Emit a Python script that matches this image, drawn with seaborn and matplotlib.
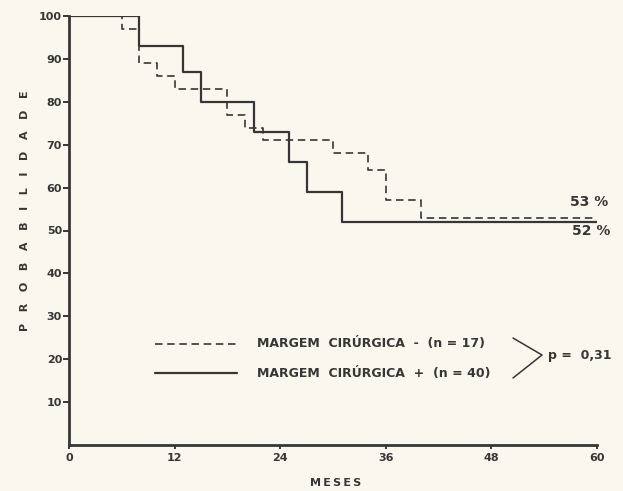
import matplotlib
matplotlib.use("Agg")
import matplotlib.pyplot as plt
from matplotlib.lines import Line2D
import numpy as np
import pandas as pd
import seaborn as sns

# Kaplan-Meier steps (months, % surviving)
meses_neg = [0, 6, 8, 10, 12, 18, 20, 22, 30, 34, 36, 40, 60]
prob_neg = [100, 97, 89, 86, 83, 77, 74, 71, 68, 64, 57, 53, 53]
meses_pos = [0, 8, 13, 15, 21, 25, 27, 31, 60]
prob_pos = [100, 93, 87, 80, 73, 66, 59, 52, 52]

label_neg = "MARGEM  CIRÚRGICA  -  (n = 17)"
label_pos = "MARGEM  CIRÚRGICA  +  (n = 40)"
final_neg = "53 %"
final_pos = "52 %"
p_valor = "p =  0,31"

x_ticks = [0, 12, 24, 36, 48, 60]
y_ticks = [10, 20, 30, 40, 50, 60, 70, 80, 90, 100]

paper = "#f9f7ee"
ink = "#363636"

df = pd.concat([
    pd.DataFrame({"meses": meses_neg, "prob": prob_neg, "grupo": label_neg}),
    pd.DataFrame({"meses": meses_pos, "prob": prob_pos, "grupo": label_pos}),
])

sns.set_theme(style="ticks")
plt.rcParams["font.family"] = ["DejaVu Sans"]
plt.rcParams["font.weight"] = "bold"

W, H = 623, 491
fig = plt.figure(figsize=(W / 100, H / 100), dpi=100, facecolor=paper)
ax = fig.add_axes([69 / W, 1 - 445 / H, (597 - 69) / W, (445 - 16) / H])
ax.set_facecolor(paper)


def fx(x):
    return x / W


def fy(y):
    return 1 - y / H


dash_neg = (4.5, 2.8)
lw_neg, lw_pos = 1.2, 1.6

sns.lineplot(data=df, x="meses", y="prob", style="grupo", color=ink,
             dashes={label_neg: dash_neg, label_pos: ""},
             drawstyle="steps-post", legend=False, ax=ax, estimator=None)
for line in ax.get_lines():
    line.set_solid_capstyle("butt")
ax.get_lines()[0].set_linewidth(lw_neg)
ax.get_lines()[1].set_linewidth(lw_pos)

ax.set_xlim(0, 60)
ax.set_ylim(0, 100)
ax.set_xticks(x_ticks)
ax.set_yticks(y_ticks)
ax.set_xticklabels([str(v) for v in x_ticks], fontsize=8, color=ink, fontweight="bold")
ax.set_yticklabels([str(v) for v in y_ticks], fontsize=8, color=ink, fontweight="bold")
ax.tick_params(axis="y", direction="out", length=4, width=1.4, pad=1, color=ink)
ax.tick_params(axis="x", direction="out", length=3, width=1.4, pad=3, color=ink)
sns.despine(ax=ax)
for side in ["left", "bottom"]:
    ax.spines[side].set_linewidth(2.0)
    ax.spines[side].set_color(ink)
ax.set_xlabel("")
ax.set_ylabel("")

# axis titles, letter spaced like the stencil lettering
fig.text(fx(25), fy(211), "   ".join("PROBABILIDADE"), rotation=90, fontsize=8,
         color=ink, ha="center", va="center", fontweight="bold")
fig.text(fx(336), fy(483), "\u2009".join("MESES"), fontsize=8, color=ink,
         ha="center", va="center", fontweight="bold")

# end-of-curve percentages
fig.text(fx(589), fy(202), final_neg, fontsize=10, color=ink, ha="center", va="center", fontweight="bold")
fig.text(fx(591), fy(231), final_pos, fontsize=10, color=ink, ha="center", va="center", fontweight="bold")

# hand drawn legend with the brace and p value
fig.add_artist(Line2D([fx(155), fx(237)], [fy(344), fy(344)], color=ink, lw=lw_neg,
                      dashes=dash_neg))
fig.add_artist(Line2D([fx(155), fx(237)], [fy(373), fy(373)], color=ink, lw=lw_pos))
fig.text(fx(257), fy(344), label_neg, fontsize=9, color=ink, va="center", fontweight="bold")
fig.text(fx(257), fy(373), label_pos, fontsize=9, color=ink, va="center", fontweight="bold")
fig.add_artist(Line2D([fx(513), fx(542), fx(513)], [fy(338), fy(355), fy(378)], color=ink, lw=1.1))
fig.text(fx(548), fy(355), p_valor, fontsize=9, color=ink, va="center", fontweight="bold")

fig.savefig("out.png", dpi=100, facecolor=paper)
